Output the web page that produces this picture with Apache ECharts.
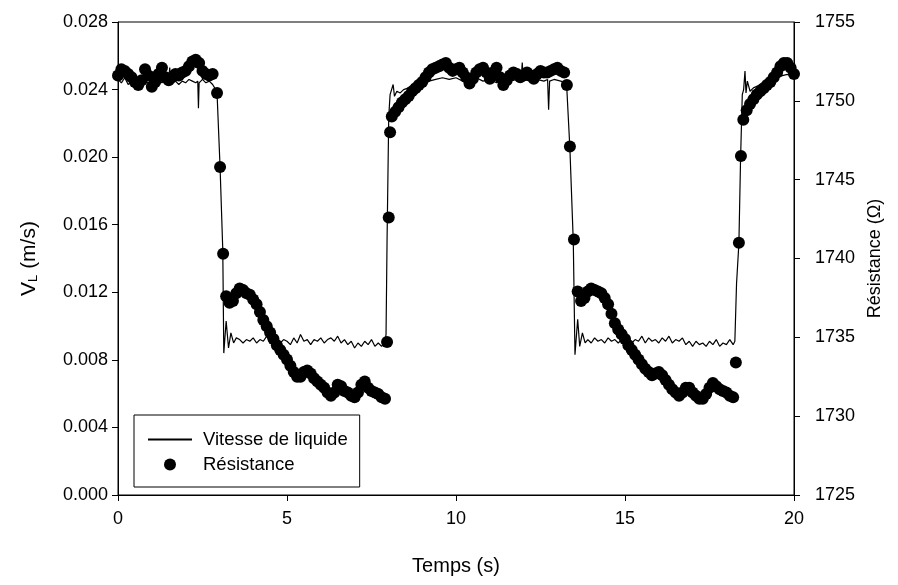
<!DOCTYPE html>
<html>
<head>
<meta charset="utf-8">
<script src="https://cdn.jsdelivr.net/npm/echarts@6/dist/echarts.min.js"></script>
<style>
  html, body { margin: 0; padding: 0; background: #fff; }
  #chart { width: 898px; height: 585px; }
</style>
</head>
<body>
<div id="chart"></div>
<script>
// liquid velocity (m/s)
const velTime = [
  0, 0.1, 0.2, 0.3, 0.4, 0.5, 0.6, 0.7, 0.8, 0.9, 1.0, 1.1, 1.2, 1.3, 1.4, 1.5, 1.53, 1.56, 1.6, 1.7, 1.8, 1.9, 2.0, 2.1, 2.2, 2.3, 2.36, 2.38, 2.40, 2.5, 2.6, 2.7, 2.8, 2.86,
  2.93, 3.02, 3.1, 3.13, 3.2, 3.27, 3.34, 3.42, 3.5,
  3.6, 3.7, 3.8, 3.9, 4.0, 4.1, 4.2, 4.3, 4.4, 4.5, 4.6, 4.7, 4.8, 4.9, 5.0, 5.1, 5.2, 5.3, 5.4, 5.5, 5.6, 5.7, 5.8, 5.9,
  6.0, 6.1, 6.2, 6.3, 6.4, 6.5, 6.6, 6.7, 6.8, 6.9, 7.0, 7.1, 7.2, 7.3, 7.4, 7.5, 7.6, 7.7, 7.8, 7.9,
  7.93, 7.96, 8.01, 8.05, 8.09, 8.14, 8.18, 8.25, 8.35, 8.45, 8.6, 8.8, 9.0, 9.2, 9.4, 9.6, 9.8, 10.0, 10.2, 10.4, 10.6, 10.8,
  11.0, 11.2, 11.4, 11.6, 11.8, 11.93, 11.96, 11.99, 12.2, 12.4, 12.6, 12.71, 12.74, 12.77, 12.9, 13.1, 13.22,
  13.28, 13.37, 13.47, 13.52, 13.6, 13.66, 13.74, 13.82,
  13.9, 14.0, 14.1, 14.2, 14.3, 14.4, 14.5, 14.6, 14.7, 14.8, 14.9, 15.0, 15.1, 15.2, 15.3, 15.4, 15.5, 15.6, 15.7, 15.8, 15.9,
  16.0, 16.1, 16.2, 16.3, 16.4, 16.5, 16.6, 16.7, 16.8, 16.9, 17.0, 17.1, 17.2, 17.3, 17.4, 17.5, 17.6, 17.7, 17.8, 17.9, 18.0, 18.1, 18.2, 18.25,
  18.3, 18.37, 18.42, 18.47, 18.51, 18.55, 18.58, 18.62, 18.7, 18.8, 18.9, 19.0, 19.2, 19.4, 19.6, 19.8, 20.0
];
const velValue = [
  0.0246, 0.0244, 0.0247, 0.0243, 0.0245, 0.0244, 0.0246, 0.0243, 0.0245, 0.0244, 0.0246, 0.0243, 0.0245, 0.0244, 0.0246, 0.0245, 0.0253, 0.0245, 0.0244, 0.0245, 0.0243, 0.0245, 0.0244, 0.0246, 0.0245, 0.0244, 0.0245, 0.0229, 0.0244, 0.0246, 0.0244, 0.0245, 0.0243, 0.0241,
  0.0238, 0.0194, 0.0145, 0.0084, 0.0103, 0.0087, 0.0096, 0.0090, 0.0093,
  0.0092, 0.0090, 0.0092, 0.0091, 0.0093, 0.0090, 0.0092, 0.0091, 0.0094, 0.0090, 0.0092, 0.0091, 0.0090, 0.0092, 0.0091, 0.0089, 0.0093, 0.0090, 0.0095, 0.0091, 0.0092, 0.0089, 0.0092, 0.0091,
  0.0093, 0.0090, 0.0092, 0.0093, 0.0091, 0.0094, 0.0090, 0.0092, 0.0089, 0.0091, 0.0087, 0.0090, 0.0088, 0.0091, 0.0089, 0.0092, 0.0088, 0.0090, 0.0088, 0.0091,
  0.0095, 0.0150, 0.0224, 0.0237, 0.0236, 0.0243, 0.0236, 0.0239, 0.0238, 0.0240, 0.0241, 0.0242, 0.0243, 0.0245, 0.0246, 0.0247, 0.0246, 0.0247, 0.0245, 0.0246, 0.0247, 0.0245,
  0.0246, 0.0244, 0.0246, 0.0245, 0.0246, 0.0247, 0.0256, 0.0246, 0.0245, 0.0246, 0.0245, 0.0246, 0.0228, 0.0245, 0.0246, 0.0245, 0.0244,
  0.0240, 0.0205, 0.0150, 0.0083, 0.0104, 0.0088, 0.0096, 0.0090,
  0.0092, 0.0090, 0.0093, 0.0091, 0.0092, 0.0090, 0.0093, 0.0091, 0.0092, 0.0090, 0.0092, 0.0091, 0.0093, 0.0090, 0.0092, 0.0091, 0.0094, 0.0090, 0.0093, 0.0091, 0.0092,
  0.0090, 0.0093, 0.0091, 0.0094, 0.0090, 0.0092, 0.0091, 0.0093, 0.0089, 0.0091, 0.0088, 0.0091, 0.0089, 0.0090, 0.0088, 0.0091, 0.0089, 0.0092, 0.0088, 0.0090, 0.0089, 0.0092, 0.0089, 0.0091,
  0.0125, 0.0149, 0.0200, 0.0237, 0.0240, 0.0251, 0.0238, 0.0245, 0.0239, 0.0241, 0.0242, 0.0243, 0.0245, 0.0246, 0.0248, 0.0249, 0.0248
];

// resistance (ohm)
const resTime = [
  0, 0.1, 0.2, 0.3, 0.4, 0.5, 0.6, 0.7, 0.8, 0.9, 1.0, 1.1, 1.2, 1.3, 1.4, 1.5, 1.6, 1.7, 1.8, 1.9, 2.0, 2.1, 2.2, 2.3, 2.4, 2.5, 2.6, 2.7, 2.8,
  2.93, 3.02, 3.11,
  3.2, 3.3, 3.4, 3.5, 3.6, 3.7, 3.8, 3.9, 4.0, 4.1, 4.2, 4.3, 4.4, 4.5, 4.6, 4.7, 4.8, 4.9, 5.0, 5.1, 5.2, 5.3, 5.4, 5.5,
  5.6, 5.7, 5.8, 5.9, 6.0, 6.1, 6.2, 6.3, 6.4, 6.5, 6.6, 6.7, 6.8, 6.9, 7.0, 7.1, 7.2, 7.3, 7.4, 7.5, 7.6, 7.7, 7.8, 7.9,
  7.96, 8.01, 8.05,
  8.1, 8.2, 8.3, 8.4, 8.5, 8.6, 8.7, 8.8, 8.9, 9.0, 9.1, 9.2, 9.3, 9.4, 9.5, 9.6, 9.7, 9.8, 9.9, 10.0, 10.1, 10.2, 10.3, 10.4, 10.5, 10.6,
  10.7, 10.8, 10.9, 11.0, 11.1, 11.2, 11.3, 11.4, 11.5, 11.6, 11.7, 11.8, 11.9, 12.0, 12.1, 12.2, 12.3, 12.4, 12.5, 12.6, 12.7, 12.8, 12.9, 13.0, 13.1, 13.2,
  13.28, 13.37, 13.49,
  13.6, 13.7, 13.8, 13.9, 14.0, 14.1, 14.2, 14.3, 14.4, 14.5, 14.6, 14.7, 14.8, 14.9, 15.0, 15.1, 15.2, 15.3, 15.4, 15.5, 15.6, 15.7, 15.8,
  15.9, 16.0, 16.1, 16.2, 16.3, 16.4, 16.5, 16.6, 16.7, 16.8, 16.9, 17.0, 17.1, 17.2, 17.3, 17.4, 17.5, 17.6, 17.7, 17.8, 17.9, 18.0, 18.1, 18.2,
  18.28, 18.37, 18.43,
  18.5, 18.6, 18.7, 18.8, 18.9, 19.0, 19.1, 19.2, 19.3, 19.4, 19.5, 19.6, 19.7, 19.8, 19.9, 20.0
];
const resValue = [
  1751.6, 1752.0, 1751.9, 1751.7, 1751.5, 1751.2, 1751.0, 1751.3, 1752.0, 1751.6, 1750.9, 1751.2, 1751.7, 1752.1, 1751.5, 1751.3, 1751.5, 1751.7, 1751.6, 1751.8, 1751.9, 1752.2, 1752.5, 1752.6, 1752.4, 1751.9, 1751.7, 1751.6, 1751.7,
  1750.5, 1745.8, 1740.3,
  1737.6, 1737.2, 1737.3, 1737.8, 1738.1, 1738.0, 1737.8, 1737.7, 1737.4, 1737.1, 1736.6, 1736.1, 1735.7, 1735.3, 1734.9, 1734.5, 1734.2, 1733.9, 1733.6, 1733.2, 1732.8, 1732.5, 1732.5, 1732.8,
  1732.9, 1732.7, 1732.4, 1732.2, 1732.0, 1731.8, 1731.5, 1731.3, 1731.5, 1732.0, 1731.9, 1731.6, 1731.5, 1731.3, 1731.2, 1731.5, 1732.0, 1732.2, 1731.8, 1731.6, 1731.5, 1731.4, 1731.2, 1731.1,
  1734.7, 1742.6, 1748.0,
  1749.0, 1749.3, 1749.6, 1749.9, 1750.1, 1750.3, 1750.6, 1750.8, 1751.0, 1751.2, 1751.5, 1751.8, 1752.0, 1752.1, 1752.2, 1752.3, 1752.4, 1752.1, 1751.9, 1752.0, 1752.1, 1751.8, 1751.5, 1751.1, 1751.4, 1751.8,
  1752.0, 1752.1, 1751.8, 1751.4, 1751.8, 1752.1, 1751.5, 1751.0, 1751.3, 1751.6, 1751.8, 1751.7, 1751.5, 1751.6, 1751.8, 1751.6, 1751.4, 1751.7, 1751.9, 1751.8, 1751.8, 1751.9, 1752.0, 1752.1, 1751.9, 1751.8,
  1751.0, 1747.1, 1741.2,
  1737.9, 1737.3, 1737.5, 1737.9, 1738.1, 1738.0, 1737.9, 1737.8, 1737.5, 1737.1, 1736.5, 1735.9, 1735.5, 1735.2, 1734.9, 1734.5, 1734.2, 1733.9, 1733.6, 1733.3, 1733.0, 1732.8, 1732.6,
  1732.7, 1732.8, 1732.6, 1732.3, 1732.0, 1731.7, 1731.5, 1731.3, 1731.5, 1731.8, 1731.8, 1731.5, 1731.3, 1731.1, 1731.1, 1731.4, 1731.8, 1732.1, 1731.9, 1731.7, 1731.6, 1731.5, 1731.3, 1731.2,
  1733.4, 1741.0, 1746.5,
  1748.8, 1749.4, 1749.8, 1750.1, 1750.4, 1750.6, 1750.8, 1751.0, 1751.2, 1751.5, 1751.8, 1752.2, 1752.4, 1752.4, 1752.1, 1751.7
];

const velLabel = 'Vitesse de liquide';
const resLabel = 'Résistance';

const font = '"Liberation Sans", Arial, Helvetica, sans-serif';
const black = '#000';

let chart = echarts.init(document.getElementById('chart'));

const axisBase = {
    axisLine: { show: true, lineStyle: { color: black, width: 1 } },
    axisTick: { show: true, inside: false, length: 6, lineStyle: { color: black } },
    axisLabel: { color: black, fontSize: 18, fontFamily: font },
    splitLine: { show: false },
    nameTextStyle: { color: black, fontFamily: font }
};

chart.setOption({
    animation: false,
    backgroundColor: '#fff',
    grid: {
        left: 118,
        right: 104,
        top: 22,
        bottom: 90,
        show: true,
        borderColor: black,
        borderWidth: 1
    },
    legend: {
        orient: 'vertical',
        left: 134,
        top: 415,
        data: [
            { name: velLabel, itemStyle: { opacity: 0 } },
            { name: resLabel }
        ],
        backgroundColor: '#fff',
        borderColor: black,
        borderWidth: 1,
        borderRadius: 0,
        padding: [15, 12, 13, 13],
        itemWidth: 44,
        itemHeight: 12,
        itemGap: 6,
        textStyle: { color: black, fontSize: 18.5, fontFamily: font, padding: [0, 0, 0, 6] }
    },
    xAxis: {
        ...axisBase,
        type: 'value',
        min: 0,
        max: 20,
        interval: 5,
        axisLabel: { ...axisBase.axisLabel, margin: 15 },
        name: 'Temps (s)',
        nameLocation: 'middle',
        nameGap: 61,
        nameTextStyle: { ...axisBase.nameTextStyle, fontSize: 20 }
    },
    yAxis: [
        {
            ...axisBase,
            type: 'value',
            min: 0,
            max: 0.028,
            interval: 0.004,
            axisLabel: { ...axisBase.axisLabel, margin: 10, formatter: v => v.toFixed(3) },
            name: 'V{sub|L} (m/s)',
            nameLocation: 'middle',
            nameRotate: 90,
            nameGap: 78,
            nameTextStyle: {
                ...axisBase.nameTextStyle,
                fontSize: 21,
                rich: {
                    sub: { fontSize: 13, fontFamily: font, color: black, verticalAlign: 'bottom', padding: [9, 0, 0, 0] }
                }
            }
        },
        {
            ...axisBase,
            type: 'value',
            position: 'right',
            min: 1725,
            max: 1755,
            interval: 5,
            axisLabel: { ...axisBase.axisLabel, margin: 21, formatter: v => String(v) },
            name: 'Résistance (Ω)',
            nameLocation: 'middle',
            nameRotate: 90,
            nameGap: 70,
            nameTextStyle: { ...axisBase.nameTextStyle, fontSize: 18 }
        }
    ],
    series: [
        {
            name: velLabel,
            type: 'line',
            yAxisIndex: 0,
            symbol: 'none',
            lineStyle: { color: black, width: 1.2 },
            itemStyle: { color: black },
            data: velTime.map((t, i) => [t, velValue[i]]),
            z: 2
        },
        {
            name: resLabel,
            type: 'scatter',
            yAxisIndex: 1,
            symbol: 'circle',
            symbolSize: 12,
            clip: false,
            itemStyle: { color: black, opacity: 1 },
            data: resTime.map((t, i) => [t, resValue[i]]),
            z: 3
        }
    ]
});
</script>
</body>
</html>
